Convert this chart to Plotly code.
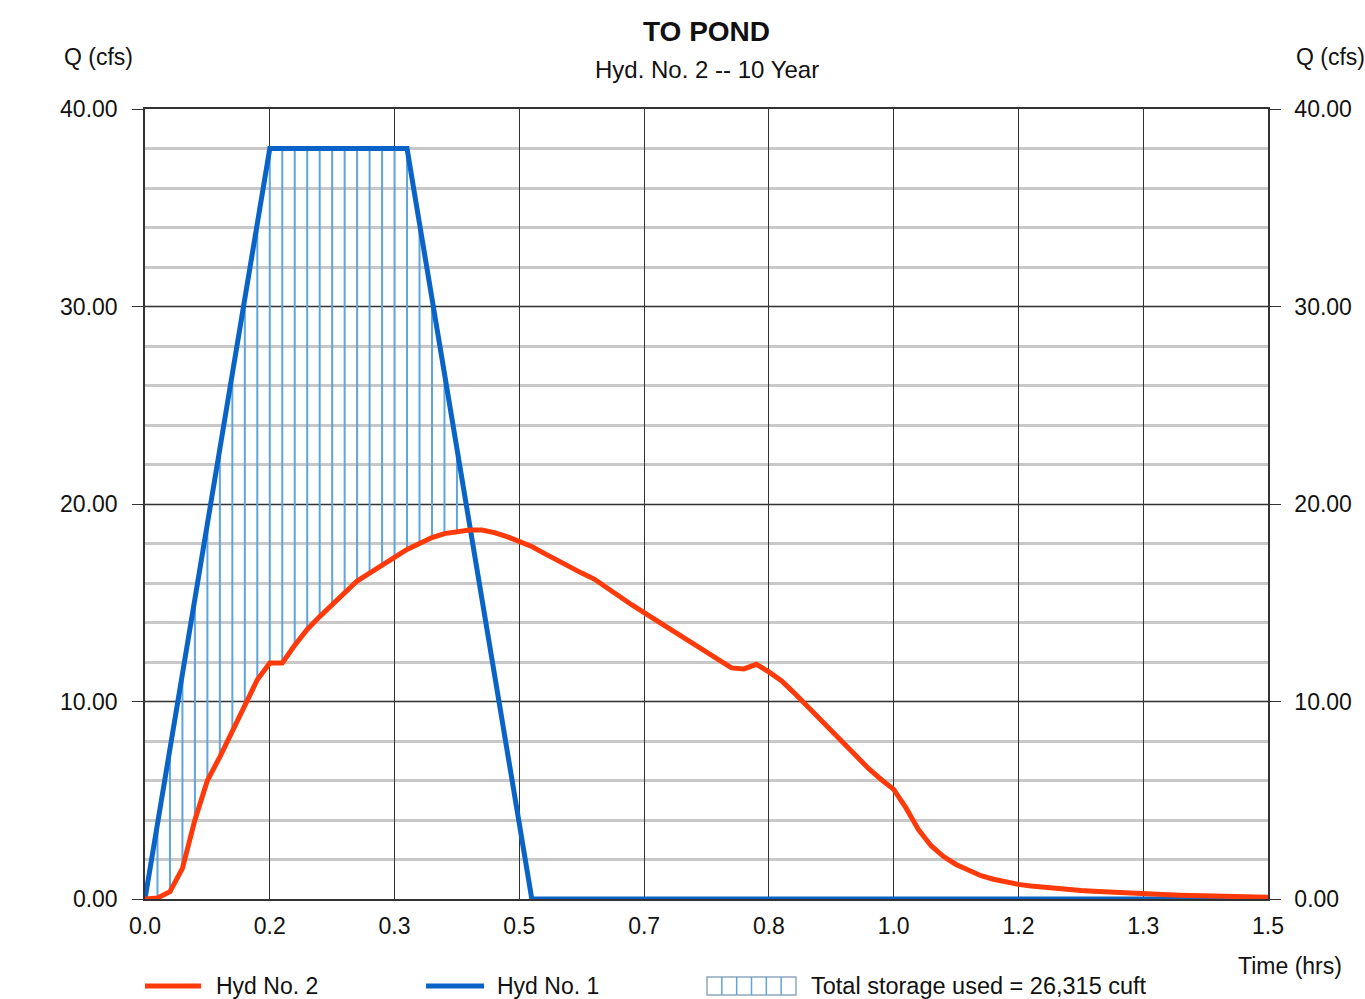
import plotly.graph_objects as go

# ---------------- data ----------------
minutes = list(range(0, 91))  # 1-minute time step, 0..90 min

hyd2_q = [0.0, 0.05, 0.37, 1.55, 4.0, 6.0, 7.2, 8.5, 9.85, 11.1,
          11.95, 11.95, 12.85, 13.65, 14.3, 14.9, 15.5, 16.1, 16.5, 16.9,
          17.3, 17.7, 18.0, 18.3, 18.5, 18.6, 18.68, 18.68, 18.55, 18.35,
          18.1, 17.85, 17.5, 17.15, 16.8, 16.5, 16.2, 15.75, 15.3, 14.9,
          14.5, 14.1, 13.7, 13.3, 12.9, 12.5, 12.1, 11.7, 11.65, 11.88,
          11.5, 11.05, 10.45, 9.8, 9.15, 8.5, 7.85, 7.2, 6.6, 6.05,
          5.55, 4.6, 3.5, 2.7, 2.15, 1.75, 1.45, 1.18, 1.0, 0.85,
          0.74, 0.66, 0.59, 0.53, 0.48, 0.43, 0.39, 0.35, 0.32, 0.29,
          0.26, 0.23, 0.21, 0.19, 0.17, 0.15, 0.14, 0.12, 0.11, 0.10,
          0.09]

hyd1_q = [0.0, 3.8, 7.6, 11.4, 15.2, 19.0, 22.8, 26.6, 30.4, 34.2,
          38.0, 38.0, 38.0, 38.0, 38.0, 38.0, 38.0, 38.0, 38.0, 38.0,
          38.0, 38.0, 34.2, 30.4, 26.6, 22.8, 19.0, 15.2, 11.4, 7.6,
          3.8, 0.0, 0.0, 0.0, 0.0, 0.0, 0.0, 0.0, 0.0, 0.0,
          0.0, 0.0, 0.0, 0.0, 0.0, 0.0, 0.0, 0.0, 0.0, 0.0,
          0.0, 0.0, 0.0, 0.0, 0.0, 0.0, 0.0, 0.0, 0.0, 0.0,
          0.0, 0.0, 0.0, 0.0, 0.0, 0.0, 0.0, 0.0, 0.0, 0.0,
          0.0, 0.0, 0.0, 0.0, 0.0, 0.0, 0.0, 0.0, 0.0, 0.0,
          0.0, 0.0, 0.0, 0.0, 0.0, 0.0, 0.0, 0.0, 0.0, 0.0,
          0.0]

x_tick_minutes = [0, 10, 20, 30, 40, 50, 60, 70, 80, 90]
x_tick_labels = ["0.0", "0.2", "0.3", "0.5", "0.7", "0.8", "1.0", "1.2", "1.3", "1.5"]
y_tick_vals = [0, 10, 20, 30, 40]

storage_label = "Total storage used = 26,315 cuft"
title_text = "TO POND"
subtitle_text = "Hyd. No. 2 -- 10 Year"

# ---------------- styling ----------------
RED = "#ff3a0a"
BLUE = "#0a64c8"
HATCH = "#5da6dd"
GRID_DARK = "#333333"
GRID_LIGHT = "#c8c8c8"
FONT = "Liberation Sans, Arial, Helvetica, sans-serif"
FS = 23

W, H = 1365, 999
L, R, T, B = 145, 97, 109, 100
PW, PH = W - L - R, H - T - B


def px_x(px):
    return (px - L) / PW


def px_y(py):
    return (H - B - py) / PH


t_hr = [m / 60 for m in minutes]
tick_hr = [m / 60 for m in x_tick_minutes]

# hatch segments between the two hydrographs (storage)
hx, hy = [], []
for t, q1, q2 in zip(t_hr, hyd1_q, hyd2_q):
    if q1 > q2:
        hx += [t, t, None]
        hy += [q2, q1, None]

fig = go.Figure()
fig.add_trace(go.Scatter(x=hx, y=hy, mode="lines",
                         line=dict(color=HATCH, width=2),
                         hoverinfo="skip", showlegend=False))
fig.add_trace(go.Scatter(x=t_hr, y=hyd1_q, mode="lines", name="Hyd No. 1",
                         line=dict(color=BLUE, width=5), showlegend=False))
fig.add_trace(go.Scatter(x=t_hr, y=hyd2_q, mode="lines", name="Hyd No. 2",
                         line=dict(color=RED, width=5), showlegend=False))
# invisible trace to activate the right-hand axis
fig.add_trace(go.Scatter(x=[None], y=[None], yaxis="y2", mode="lines",
                         hoverinfo="skip", showlegend=False))

tickfont = dict(family=FONT, size=FS, color="#111111")

fig.update_layout(
    width=W, height=H,
    margin=dict(l=L, r=R, t=T, b=B, autoexpand=False),
    paper_bgcolor="white", plot_bgcolor="white",
    font=dict(family=FONT, size=FS, color="#111111"),
    showlegend=False,
    xaxis=dict(range=[0, 1.5], tickvals=tick_hr, ticktext=x_tick_labels,
               tickfont=tickfont, ticks="", showgrid=True,
               gridcolor=GRID_DARK, gridwidth=1.4, zeroline=False,
               showline=True, linecolor=GRID_DARK, linewidth=1.5,
               mirror=True, ticklabelstandoff=6, automargin=False),
    yaxis=dict(range=[0, 40], tickvals=y_tick_vals, tickformat=".2f",
               tickfont=tickfont, ticks="outside", ticklen=11,
               tickcolor=GRID_DARK, tickwidth=1.4,
               showgrid=True, gridcolor=GRID_DARK, gridwidth=1.4,
               minor=dict(dtick=2, showgrid=True, gridcolor=GRID_LIGHT,
                          gridwidth=2.5, ticks=""),
               zeroline=False, showline=True, linecolor=GRID_DARK,
               linewidth=1.5, ticklabelstandoff=10, automargin=False),
    yaxis2=dict(range=[0, 40], tickvals=y_tick_vals, tickformat=".2f",
                overlaying="y", side="right",
                tickfont=tickfont, ticks="outside", ticklen=11,
                tickcolor=GRID_DARK, tickwidth=1.4, showgrid=False,
                zeroline=False, showline=True, linecolor=GRID_DARK,
                linewidth=1.5, ticklabelstandoff=9, automargin=False),
)

ann = []
ann.append(dict(text="<b>" + title_text + "</b>", x=0.5, y=px_y(32),
                xref="paper", yref="paper", showarrow=False,
                font=dict(family=FONT, size=28, color="#111111"),
                xanchor="center", yanchor="middle"))
ann.append(dict(text=subtitle_text, x=0.5, y=px_y(70),
                xref="paper", yref="paper", showarrow=False,
                font=dict(family=FONT, size=24, color="#111111"),
                xanchor="center", yanchor="middle"))
ann.append(dict(text="Q (cfs)", x=px_x(98), y=px_y(57),
                xref="paper", yref="paper", showarrow=False,
                xanchor="center", yanchor="middle"))
ann.append(dict(text="Q (cfs)", x=px_x(1330), y=px_y(57),
                xref="paper", yref="paper", showarrow=False,
                xanchor="center", yanchor="middle"))
ann.append(dict(text="Time (hrs)", x=px_x(1290), y=px_y(966),
                xref="paper", yref="paper", showarrow=False,
                xanchor="center", yanchor="middle"))
# legend texts
ann.append(dict(text="Hyd No. 2", x=px_x(214), y=px_y(986),
                xref="paper", yref="paper", showarrow=False,
                xanchor="left", yanchor="middle"))
ann.append(dict(text="Hyd No. 1", x=px_x(495), y=px_y(986),
                xref="paper", yref="paper", showarrow=False,
                xanchor="left", yanchor="middle"))
ann.append(dict(text=storage_label, x=px_x(809), y=px_y(986),
                xref="paper", yref="paper", showarrow=False,
                font=dict(family=FONT, size=23.5, color="#111111"),
                xanchor="left", yanchor="middle"))
fig.update_layout(annotations=ann)

shapes = []
shapes.append(dict(type="line", xref="paper", yref="paper",
                   x0=px_x(145), x1=px_x(201), y0=px_y(986), y1=px_y(986),
                   line=dict(color=RED, width=5)))
shapes.append(dict(type="line", xref="paper", yref="paper",
                   x0=px_x(426), x1=px_x(484), y0=px_y(986), y1=px_y(986),
                   line=dict(color=BLUE, width=5)))
bx0, bx1, by0, by1 = 707, 796, 977, 995
shapes.append(dict(type="rect", xref="paper", yref="paper",
                   x0=px_x(bx0), x1=px_x(bx1), y0=px_y(by1), y1=px_y(by0),
                   line=dict(color="#8fa8c0", width=1.5)))
ncell = 6
for i in range(1, ncell):
    xx = bx0 + (bx1 - bx0) * i / ncell
    shapes.append(dict(type="line", xref="paper", yref="paper",
                       x0=px_x(xx), x1=px_x(xx), y0=px_y(by1), y1=px_y(by0),
                       line=dict(color=HATCH, width=1.5)))
fig.update_layout(shapes=shapes)

fig.write_html(
    "out.html",
    config={"displayModeBar": False},
    post_script="document.body.style.margin='0';"
                "document.body.style.overflow='hidden';"
                "document.documentElement.style.overflow='hidden';",
)
